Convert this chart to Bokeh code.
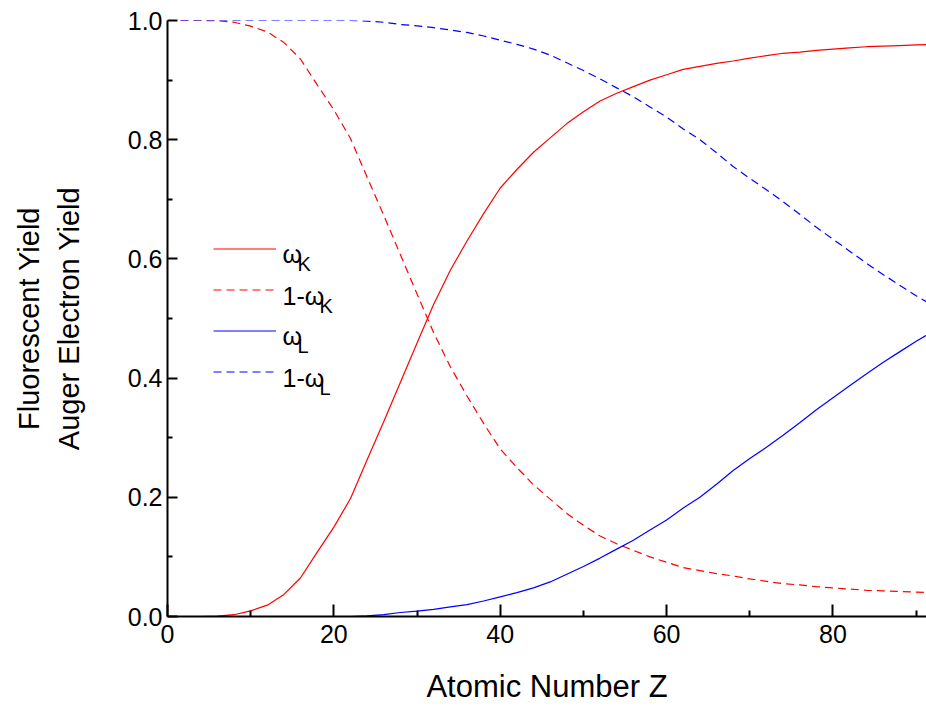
from bokeh.plotting import figure
from bokeh.models import (Range1d, FixedTicker, Legend, LegendItem, Label,
                          NumeralTickFormatter)
from bokeh.embed import file_html
from bokeh.resources import INLINE

# ---- data ----
Z = [0, 2, 4, 6, 8, 10, 12, 14, 16, 18, 20, 22, 24, 26, 28, 30, 32, 34, 36, 38,
     40, 42, 44, 46, 48, 50, 52, 54, 56, 58, 60, 62, 64, 66, 68, 70, 72, 74, 76,
     78, 80, 82, 84, 86, 88, 90, 92]

omega_K = [0.0, 0.0, 0.0, 0.0005, 0.003, 0.0095, 0.019, 0.037, 0.065, 0.108,
           0.150, 0.198, 0.263, 0.327, 0.393, 0.459, 0.524, 0.581, 0.630, 0.676,
           0.719, 0.750, 0.779, 0.803, 0.827, 0.847, 0.865, 0.878, 0.889, 0.900,
           0.909, 0.918, 0.923, 0.928, 0.932, 0.937, 0.941, 0.945, 0.947, 0.950,
           0.952, 0.954, 0.956, 0.957, 0.958, 0.959, 0.960]

omega_L = [0.0, 0.0, 0.0, 0.0, 0.0, 0.0, 0.0, 0.0, 0.0, 0.0,
           0.0, 0.0, 0.001, 0.003, 0.0067, 0.009, 0.012, 0.016, 0.020, 0.026,
           0.033, 0.040, 0.048, 0.058, 0.071, 0.084, 0.098, 0.113, 0.128, 0.145,
           0.162, 0.182, 0.200, 0.222, 0.245, 0.265, 0.284, 0.304, 0.325, 0.347,
           0.367, 0.387, 0.407, 0.426, 0.444, 0.462, 0.478]

# Auger yields are the complements of the fluorescent yields
auger_K = [round(1.0 - v, 4) for v in omega_K]
auger_L = [round(1.0 - v, 4) for v in omega_L]

x_major = [0, 20, 40, 60, 80]
x_minor = [10, 30, 50, 70, 90]
y_major = [0.0, 0.2, 0.4, 0.6, 0.8, 1.0]
y_minor = [0.1, 0.3, 0.5, 0.7, 0.9]

legend_main = ["ω", "1-ω", "ω", "1-ω"]
legend_sub = ["K", "K", "L", "L"]

FONT = "Liberation Sans"

p = figure(width=926, height=706, output_backend="svg", toolbar_location=None,
           x_range=Range1d(0, 91.24), y_range=Range1d(0, 1.0),
           min_border_left=167, min_border_right=0, min_border_top=20,
           min_border_bottom=88)
p.outline_line_color = None
p.xgrid.visible = False
p.ygrid.visible = False
p.background_fill_color = "white"
p.border_fill_color = "white"

r1 = p.line(Z, omega_K, line_color="#ff0000", line_width=1.2)
r2 = p.line(Z, auger_K, line_color="#ff0000", line_width=1.2, line_dash="8 5")
r3 = p.line(Z, omega_L, line_color="#0000ff", line_width=1.2)
r4 = p.line(Z, auger_L, line_color="#0000ff", line_width=1.2, line_dash="8 5")

# axes
p.xaxis.ticker = FixedTicker(ticks=x_major, minor_ticks=x_minor)
p.yaxis.ticker = FixedTicker(ticks=y_major, minor_ticks=y_minor)
p.yaxis.formatter = NumeralTickFormatter(format="0.0")

for ax in (p.xaxis[0], p.yaxis[0]):
    ax.axis_line_width = 2
    ax.axis_line_color = "black"
    ax.major_tick_line_width = 2
    ax.minor_tick_line_width = 2
    ax.major_tick_line_color = "black"
    ax.minor_tick_line_color = "black"
    ax.major_tick_out = 0
    ax.minor_tick_out = 0
    ax.major_label_text_font = FONT
    ax.major_label_text_font_size = "25px"
    ax.major_label_text_color = "black"
    ax.axis_label_text_font = FONT
    ax.axis_label_text_font_style = "normal"
    ax.axis_label_text_color = "black"

p.xaxis.major_tick_in = 12
p.xaxis.minor_tick_in = 6
p.yaxis.major_tick_in = 10
p.yaxis.minor_tick_in = 5
p.xaxis.major_label_standoff = 8
p.yaxis.major_label_standoff = 5
p.xaxis.axis_label = "Atomic Number Z"
p.xaxis.axis_label_text_font_size = "31px"
p.xaxis.axis_label_standoff = 23
p.yaxis.axis_label = "Fluorescent Yield\nAuger Electron Yield"
p.yaxis.axis_label_text_font_size = "29px"
p.yaxis.axis_label_text_line_height = 1.24
p.yaxis.axis_label_standoff = 40

# legend: line samples from Bokeh's legend, texts (with subscripts) as labels
items = [LegendItem(label=" ", renderers=[r]) for r in [r1, r2, r3, r4]]
legend = Legend(items=items, location=(46, 224), padding=0, margin=0,
                spacing=0, glyph_width=63, glyph_height=41, label_height=41,
                label_width=0, label_standoff=0, border_line_color=None,
                background_fill_alpha=0, label_text_font=FONT,
                label_text_font_size="25px", label_text_color="black")
p.add_layout(legend)

main_x = [115, 115, 115, 115]
main_y = [363, 321, 281, 239]
sub_x = [130, 152, 130, 152]
sub_y = [353, 311, 271, 229]
for i in range(4):
    p.add_layout(Label(x=main_x[i], y=main_y[i], x_units="screen", y_units="screen",
                       text=legend_main[i], text_font=FONT, text_font_size="25px",
                       text_color="black", text_baseline="alphabetic"))
    p.add_layout(Label(x=sub_x[i], y=sub_y[i], x_units="screen", y_units="screen",
                       text=legend_sub[i], text_font=FONT, text_font_size="20px",
                       text_color="black", text_baseline="alphabetic"))

open("out.html", "w").write(file_html(p, INLINE))
